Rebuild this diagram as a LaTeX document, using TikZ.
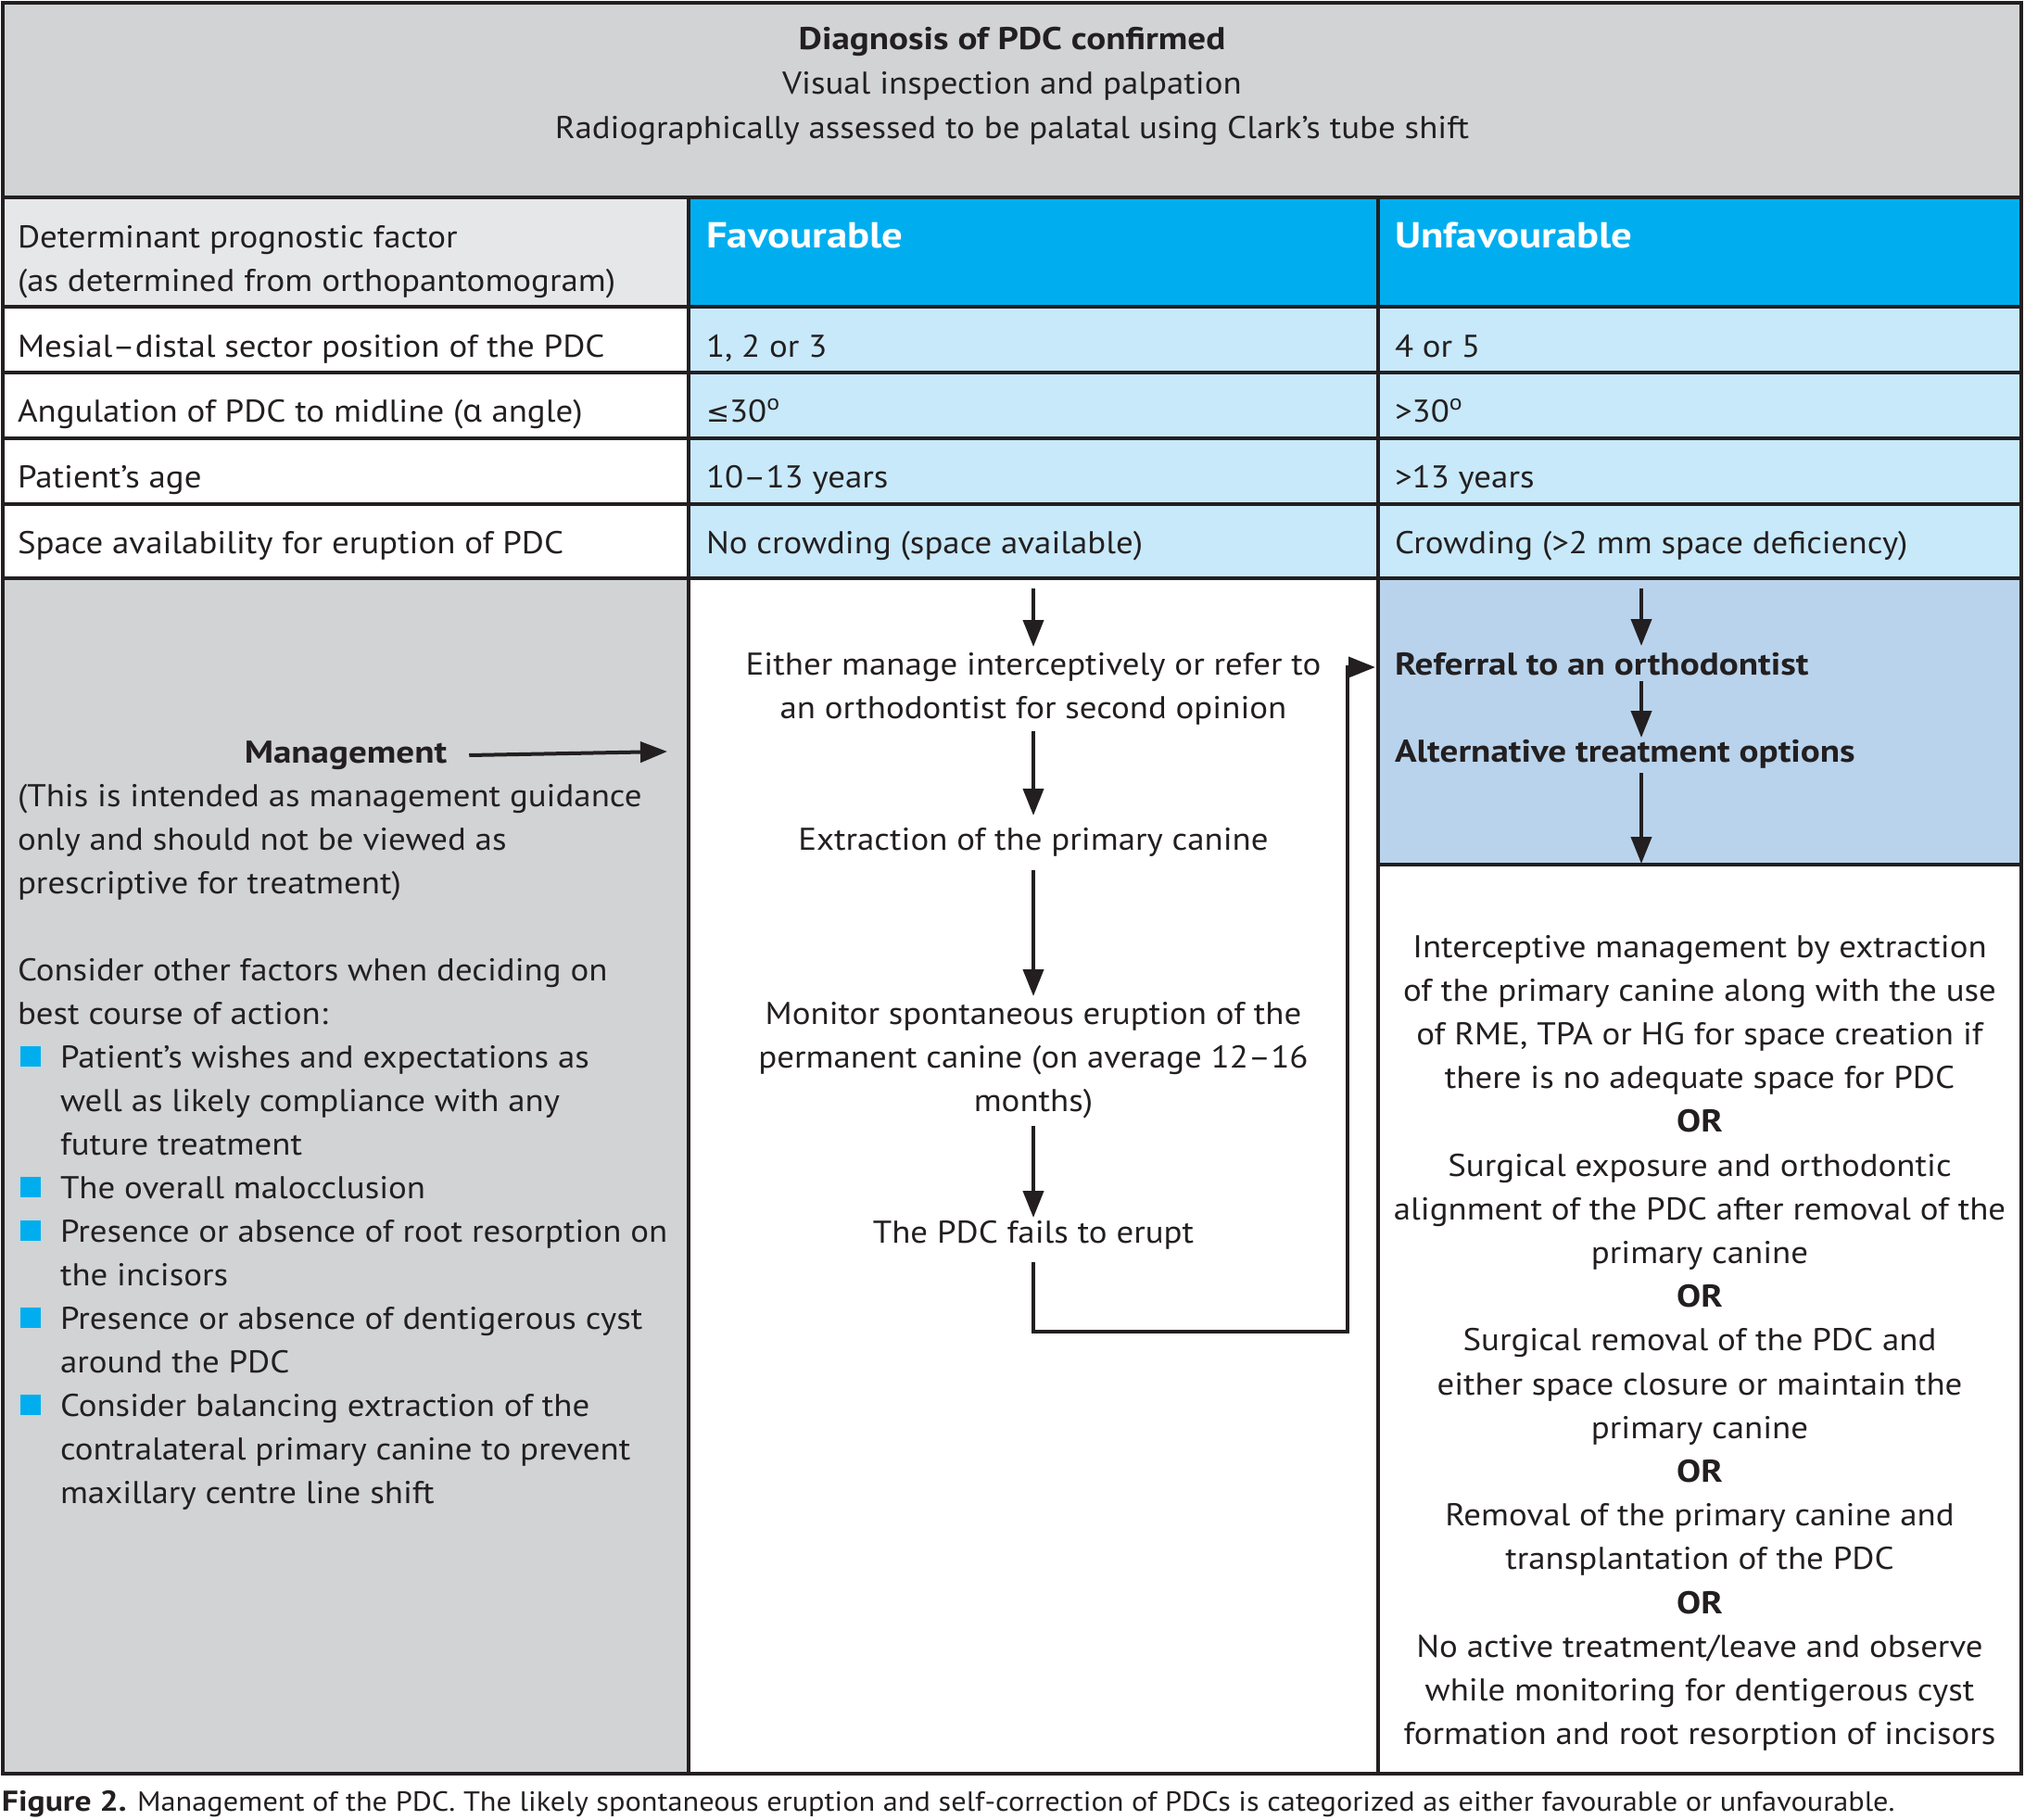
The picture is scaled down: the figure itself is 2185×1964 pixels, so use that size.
\documentclass[tikz,border=0pt]{standalone}
\usepackage{fontspec}
\setmainfont{PT Sans}[FakeStretch=1.085, BoldFeatures={FakeStretch=1.15}]
\newfontfamily\grk{Noto Sans}
\newfontfamily\symf{DejaVu Sans}
\usetikzlibrary{arrows.meta,calc}
\definecolor{ink}{HTML}{231F20}
\definecolor{hdrgray}{HTML}{D1D3D4}
\definecolor{lgray}{HTML}{E6E7E8}
\definecolor{cyanB}{HTML}{00AEEF}
\definecolor{lblue}{HTML}{C8E9FA}
\definecolor{mblue}{HTML}{B9D3EC}
\begin{document}
\begin{tikzpicture}[x=0.5pt,y=-0.5pt,
 every node/.style={inner sep=0pt, outer sep=0pt, text=ink},
 fs/.style={font=\fontsize{17}{23.6}\selectfont, text height=12pt, text depth=4pt},
 t/.style={fs, anchor=base west},
 tc/.style={fs, anchor=base},
 tb/.style={fs, font=\fontsize{17}{23.6}\selectfont\bfseries, anchor=base west},
 tbc/.style={fs, font=\fontsize{17}{23.6}\selectfont\bfseries, anchor=base},
 hd/.style={font=\fontsize{19.5}{25}\selectfont\bfseries, anchor=base west, text=white},
 grid/.style={draw=ink, line width=2pt},
 flow/.style={draw=ink, line width=2pt, -{Triangle[length=14.5pt,width=11pt]}},
 bul/.style={fill=cyanB, minimum size=11pt, anchor=south west}
]
\useasboundingbox (0,0) rectangle (2185,1964);
% fills
\fill[hdrgray] (3,3) rectangle (2181,213);
\fill[lgray] (3,213) rectangle (743,331);
\fill[cyanB] (743,213) rectangle (2181,331);
\fill[white] (3,331) rectangle (743,624);
\fill[lblue] (743,331) rectangle (2181,624);
\fill[hdrgray] (3,624) rectangle (743,1914);
\fill[white] (743,624) rectangle (1487,1914);
\fill[mblue] (1487,624) rectangle (2181,933);
\fill[white] (1487,933) rectangle (2181,1914);
% grid lines
\draw[grid] (3,3) rectangle (2181,1914);
\draw[grid] (743,213) -- (743,1914);
\draw[grid] (1487,213) -- (1487,1914);
\foreach \yy in {213,331,402,473,544,624} \draw[grid] (3,\yy) -- (2181,\yy);
\draw[grid] (1487,933) -- (2181,933);

% header
\node[tbc] (h1) at (1092,54) {Diagnosis of PDC confirmed};
\node[tc] (h2) at (1092,102) {Visual inspection and palpation};
\node[tc] (h3) at (1092,149) {Radiographically assessed to be palatal using Clark’s tube shift};

% table rows
\node[t] (r1a) at (19,267) {Determinant prognostic factor};
\node[t] (r1b) at (19,314) {(as determined from orthopantomogram)};
\node[hd] (fav) at (762,267) {Favourable};
\node[hd] (unf) at (1505,267) {Unfavourable};
\node[t] (r2a) at (19,385) {Mesial–distal sector position of the PDC};
\node[t] (r2b) at (762,385) {1, 2 or 3};
\node[t] (r2c) at (1505,385) {4 or 5};
\node[t] (r3a) at (19,455) {Angulation of PDC to midline ({\grk α} angle)};
\node[t] (r3b) at (762,455) {{\symf\fontsize{15}{20}\selectfont ≤}30\textsuperscript{o}};
\node[t] (r3c) at (1505,455) {>30\textsuperscript{o}};
\node[t] (r4a) at (19,526) {Patient’s age};
\node[t] (r4b) at (762,526) {10–13 years};
\node[t] (r4c) at (1505,526) {>13 years};
\node[t] (r5a) at (19,597) {Space availability for eruption of PDC};
\node[t] (r5b) at (762,597) {No crowding (space available)};
\node[t] (r5c) at (1505,597) {Crowding (>2 mm space deficiency)};

% left management column
\node[tbc] (mg) at (373,823) {Management};
\coordinate (mgend) at (720,811);
\draw[flow] ([xshift=12pt]mg.east) -- (mgend);
\node[t] (p1) at (19,870) {(This is intended as management guidance};
\node[t] (p2) at (19,917) {only and should not be viewed as};
\node[t] (p3) at (19,964) {prescriptive for treatment)};
\node[t] (q1) at (19,1058) {Consider other factors when deciding on};
\node[t] (q2) at (19,1105) {best course of action:};
\node[bul] (bu1) at (22,1151) {};
\node[t] (b1a) at (65,1152) {Patient’s wishes and expectations as};
\node[t] (b1b) at (65,1199) {well as likely compliance with any};
\node[t] (b1c) at (65,1246) {future treatment};
\node[bul] (bu2) at (22,1292) {};
\node[t] (b2a) at (65,1293) {The overall malocclusion};
\node[bul] (bu3) at (22,1339) {};
\node[t] (b3a) at (65,1340) {Presence or absence of root resorption on};
\node[t] (b3b) at (65,1387) {the incisors};
\node[bul] (bu4) at (22,1433) {};
\node[t] (b4a) at (65,1434) {Presence or absence of dentigerous cyst};
\node[t] (b4b) at (65,1481) {around the PDC};
\node[bul] (bu5) at (22,1527) {};
\node[t] (b5a) at (65,1528) {Consider balancing extraction of the};
\node[t] (b5b) at (65,1575) {contralateral primary canine to prevent};
\node[t] (b5c) at (65,1622) {maxillary centre line shift};

% favourable flow
\coordinate (c2top) at (1115,635);
\node[tc] (e1) at (1115,728) {Either manage interceptively or refer to};
\node[tc] (e2) at (1115,775) {an orthodontist for second opinion};
\node[tc] (x1) at (1115,917) {Extraction of the primary canine};
\node[tc] (m1) at (1115,1105) {Monitor spontaneous eruption of the};
\node[tc] (m2) at (1115,1152) {permanent canine (on average 12–16};
\node[tc] (m3) at (1115,1199) {months)};
\node[tc] (f1) at (1115,1341) {The PDC fails to erupt};
\draw[flow] (c2top) -- ([yshift=3pt]e1.north);
\draw[flow] ([yshift=-3pt]e2.south) -- ([yshift=6.5pt]x1.north);
\draw[flow] ([yshift=-7pt]x1.south) -- ([yshift=3pt]m1.north);
\draw[flow] ([yshift=-4pt]m3.south) -- ([yshift=1.5pt]f1.north);

% unfavourable flow
\coordinate (c3x) at (1771,0);
\coordinate (c3top) at (1771,635);
\coordinate (c3bot) at (1771,932);
\node[tb] (rf) at (1505,728) {Referral to an orthodontist};
\node[tb] (al) at (1505,822) {Alternative treatment options};
\draw[flow] (c3top) -- ($(c3x |- rf.north)+(0,-7)$);
\draw[flow] ($(c3x |- rf.south)+(0,-1)$) -- ($(c3x |- al.north)+(0,-2)$);
\draw[flow] ($(c3x |- al.south)+(0,4)$) -- (c3bot);
\draw[flow] ([yshift=-6.5pt]f1.south) -- ++(0,75) -| ([xshift=-25.5pt]rf.west) -- ([xshift=-10.5pt]rf.west);

% alternative options
\node[tc] (o1) at (1834,1033) {Interceptive management by extraction};
\node[tc] (o2) at (1834,1080.2) {of the primary canine along with the use};
\node[tc] (o3) at (1834,1127.4) {of RME, TPA or HG for space creation if};
\node[tc] (o4) at (1834,1174.6) {there is no adequate space for PDC};
\node[tbc] (or1) at (1834,1221.8) {OR};
\node[tc] (o5) at (1834,1269) {Surgical exposure and orthodontic};
\node[tc] (o6) at (1834,1316.2) {alignment of the PDC after removal of the};
\node[tc] (o7) at (1834,1363.4) {primary canine};
\node[tbc] (or2) at (1834,1410.6) {OR};
\node[tc] (o8) at (1834,1457.8) {Surgical removal of the PDC and};
\node[tc] (o9) at (1834,1505) {either space closure or maintain the};
\node[tc] (o10) at (1834,1552.2) {primary canine};
\node[tbc] (or3) at (1834,1599.4) {OR};
\node[tc] (o11) at (1834,1646.6) {Removal of the primary canine and};
\node[tc] (o12) at (1834,1693.8) {transplantation of the PDC};
\node[tbc] (or4) at (1834,1741) {OR};
\node[tc] (o13) at (1834,1788.2) {No active treatment/leave and observe};
\node[tc] (o14) at (1834,1835.4) {while monitoring for dentigerous cyst};
\node[tc] (o15) at (1834,1882.6) {formation and root resorption of incisors};

% caption
\node[anchor=base west, font=\fontsize{14.9}{18}\selectfont] (cap) at (2,1954) {{\fontsize{15.5}{18}\selectfont\bfseries Figure 2.} Management of the PDC. The likely spontaneous eruption and self-correction of PDCs is categorized as either favourable or unfavourable.};
\end{tikzpicture}
\end{document}
